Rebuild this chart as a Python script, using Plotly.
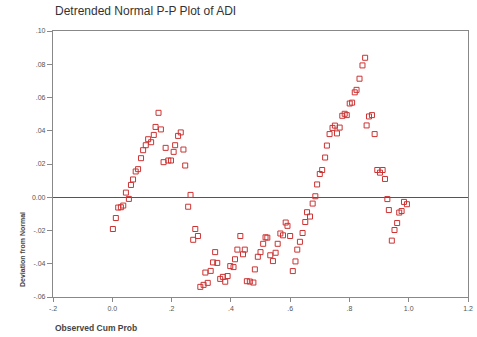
import plotly.graph_objects as go

obs_cum_prob = [0.002, 0.012, 0.020, 0.029, 0.037, 0.046, 0.056, 0.063, 0.070, 0.079,
                0.087, 0.097, 0.104, 0.113, 0.121, 0.131, 0.140, 0.146, 0.156, 0.164,
                0.173, 0.180, 0.189, 0.198, 0.207, 0.212, 0.222, 0.231, 0.240, 0.246,
                0.256, 0.264, 0.273, 0.280, 0.289, 0.297, 0.308, 0.314, 0.322, 0.332,
                0.340, 0.347, 0.354, 0.364, 0.373, 0.381, 0.389, 0.398, 0.409, 0.414,
                0.422, 0.432, 0.441, 0.447, 0.454, 0.464, 0.476, 0.481, 0.491, 0.500,
                0.509, 0.517, 0.523, 0.533, 0.542, 0.551, 0.558, 0.567, 0.576, 0.585,
                0.591, 0.600, 0.609, 0.618, 0.624, 0.633, 0.642, 0.651, 0.657, 0.667,
                0.676, 0.685, 0.691, 0.700, 0.708, 0.718, 0.724, 0.733, 0.743, 0.751,
                0.758, 0.767, 0.776, 0.784, 0.791, 0.801, 0.809, 0.818, 0.824, 0.834,
                0.844, 0.853, 0.858, 0.866, 0.876, 0.885, 0.894, 0.903, 0.912, 0.920,
                0.928, 0.933, 0.943, 0.952, 0.961, 0.968, 0.976, 0.984, 0.994]

deviation = [-0.0191, -0.0125, -0.0062, -0.0060, -0.0050, 0.0028, -0.0010, 0.0074, 0.0107, 0.0155,
             0.0169, 0.0235, 0.0283, 0.0313, 0.0349, 0.0331, 0.0375, 0.0423, 0.0508, 0.0408,
             0.0211, 0.0297, 0.0221, 0.0221, 0.0273, 0.0313, 0.0369, 0.0390, 0.0287, 0.0191,
             -0.0057, 0.0014, -0.0256, -0.0191, -0.0233, -0.0539, -0.0527, -0.0453, -0.0515, -0.0443,
             -0.0392, -0.0330, -0.0395, -0.0491, -0.0479, -0.0508, -0.0474, -0.0414, -0.0420, -0.0373,
             -0.0315, -0.0233, -0.0343, -0.0315, -0.0505, -0.0507, -0.0513, -0.0434, -0.0358, -0.0330,
             -0.0280, -0.0241, -0.0243, -0.0349, -0.0384, -0.0334, -0.0280, -0.0218, -0.0229, -0.0152,
             -0.0172, -0.0233, -0.0444, -0.0386, -0.0315, -0.0268, -0.0215, -0.0149, -0.0090, -0.0116,
             -0.0038, 0.0006, 0.0077, 0.0140, 0.0164, 0.0239, 0.0311, 0.0380, 0.0417, 0.0431,
             0.0384, 0.0419, 0.0490, 0.0502, 0.0494, 0.0564, 0.0569, 0.0631, 0.0646, 0.0713,
             0.0793, 0.0839, 0.0432, 0.0486, 0.0494, 0.0380, 0.0164, 0.0148, 0.0164, 0.0110,
             -0.0011, -0.0077, -0.0261, -0.0197, -0.0155, -0.0092, -0.0083, -0.0028, -0.0042]

x_tick_vals = [-0.2, 0.0, 0.2, 0.4, 0.6, 0.8, 1.0, 1.2]
x_tick_text = ["-.2", "0.0", ".2", ".4", ".6", ".8", "1.0", "1.2"]
y_tick_vals = [-0.06, -0.04, -0.02, 0.0, 0.02, 0.04, 0.06, 0.08, 0.10]
y_tick_text = ["-.06", "-.04", "-.02", "0.00", ".02", ".04", ".06", ".08", ".10"]

FONT = "Liberation Sans, Arial, sans-serif"
AXCOL = "#888888"

fig = go.Figure()
fig.add_trace(go.Scatter(
    x=obs_cum_prob, y=deviation, mode="markers",
    marker=dict(symbol="square-open", size=5, color="#cc3333", line=dict(width=1, color="#cc3333")),
    showlegend=False, hoverinfo="x+y"))

fig.update_layout(
    width=477, height=337,
    margin=dict(l=53, r=4, t=31, b=40),
    paper_bgcolor="white", plot_bgcolor="white",
    font=dict(family=FONT, size=7, color="#444444"),
    xaxis=dict(range=[-0.2, 1.2], tickvals=x_tick_vals, ticktext=x_tick_text,
               showgrid=False, zeroline=False, showline=True, mirror=True,
               linecolor=AXCOL, linewidth=1.2, ticks="outside", ticklen=4,
               tickcolor=AXCOL, tickfont=dict(size=7, color="#555555"),
               ticklabeloverflow="allow"),
    yaxis=dict(range=[-0.06, 0.10], tickvals=y_tick_vals, ticktext=y_tick_text,
               showgrid=False, zeroline=True, zerolinecolor="#555555", zerolinewidth=1.2,
               showline=True, mirror=True,
               linecolor=AXCOL, linewidth=1.2, ticks="outside", ticklen=5,
               tickcolor=AXCOL, tickfont=dict(size=7, color="#555555")),
    annotations=[
        dict(text="Detrended Normal P-P Plot of ADI", xref="paper", yref="paper",
             x=0.0, y=1.0, xanchor="left", yanchor="bottom", yshift=11,
             showarrow=False, font=dict(family=FONT, size=12, color="#333333")),
        dict(text="<b>Observed Cum Prob</b>", xref="paper", yref="paper",
             x=0.0, y=0.0, xanchor="left", yanchor="middle", yshift=-31,
             showarrow=False, font=dict(family=FONT, size=8.5, color="#444444")),
        dict(text="<b>Deviation from Normal</b>", xref="paper", yref="paper",
             x=0.0, y=0.0, xshift=-31, yshift=47, xanchor="center", yanchor="middle",
             textangle=-90, showarrow=False, font=dict(family=FONT, size=7, color="#444444")),
    ],
)

fig.write_html("out.html",
               config={"displayModeBar": False},
               post_script="document.body.style.margin='0px';document.body.style.overflow='hidden';")
